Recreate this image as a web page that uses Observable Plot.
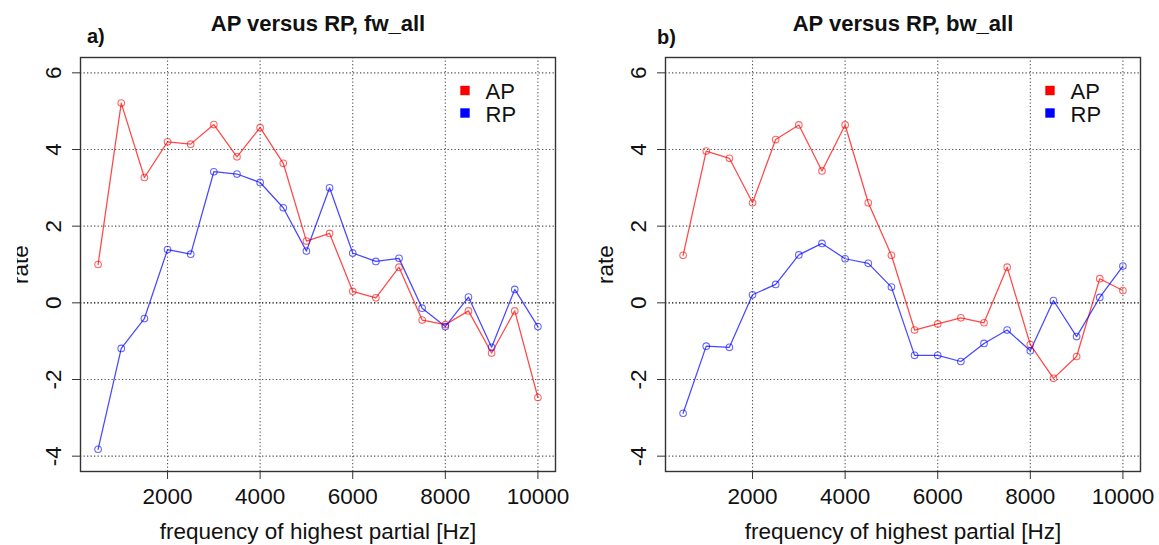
<!DOCTYPE html>
<html><head><meta charset="utf-8">
<script src="https://cdn.jsdelivr.net/npm/d3@7"></script>
<script src="https://cdn.jsdelivr.net/npm/@observablehq/plot@0.6"></script>
<style>
body{margin:0;background:#fff;}
#wrap{position:relative;width:1159px;height:545px;overflow:hidden;background:#fff;}
#pa{position:absolute;left:17px;top:0;}
#pb{position:absolute;left:580px;top:0;}
</style></head><body><div id="wrap"><div id="pa"></div><div id="pb"></div></div>
<script>
const freq = [500,1000,1500,2000,2500,3000,3500,4000,4500,5000,5500,6000,6500,7000,7500,8000,8500,9000,9500,10000];
const fwAP = [1.00,5.21,3.27,4.20,4.14,4.65,3.81,4.57,3.64,1.61,1.81,0.30,0.13,0.93,-0.45,-0.57,-0.21,-1.31,-0.21,-2.47];
const fwRP = [-3.82,-1.19,-0.41,1.39,1.27,3.42,3.36,3.14,2.48,1.35,3.00,1.30,1.08,1.16,-0.14,-0.62,0.15,-1.16,0.35,-0.62];
const bwAP = [1.24,3.96,3.77,2.61,4.26,4.64,3.44,4.64,2.61,1.24,-0.71,-0.55,-0.39,-0.52,0.93,-1.09,-1.97,-1.40,0.63,0.32];
const bwRP = [-2.88,-1.13,-1.16,0.21,0.48,1.25,1.55,1.15,1.03,0.41,-1.37,-1.37,-1.53,-1.06,-0.71,-1.25,0.06,-0.88,0.14,0.96];
const seriesNames = ["AP","RP"];
const seriesColors = ["#ff0000","#0000ff"];
const xTicks = [2000,4000,6000,8000,10000];
const yTicks = [-4,-2,0,2,4,6];
const titles = ["AP versus RP, fw_all","AP versus RP, bw_all"];
const tags = ["a)","b)"];
const xLabel = "frequency of highest partial [Hz]";
const yLabel = "rate";

function rows(ap, rp) {
  const out = [];
  freq.forEach((f, i) => out.push({freq: f, rate: ap[i], series: seriesNames[0]}));
  freq.forEach((f, i) => out.push({freq: f, rate: rp[i], series: seriesNames[1]}));
  return out;
}

function panel({title, tag, tagDx, tagDy, data, width, marginLeft, marginRight}) {
  const FS = 22.5;
  const dotted = {stroke: "#444", strokeOpacity: 0.9, strokeDasharray: "1.3,2.2", strokeWidth: 1.1};
  const legend = [];
  seriesNames.forEach((s, i) => {
    legend.push(Plot.dot([s], {frameAnchor: "top-right", dx: -90.5, dy: 33 + 22.5 * i, symbol: "square", fill: d => d, r: 5.3}));
    legend.push(Plot.text([s], {frameAnchor: "top-right", dx: -70, dy: 41 + 23 * i, textAnchor: "start", lineAnchor: "bottom", fill: "#111", fontSize: 22}));
  });
  return Plot.plot({
    width, height: 545,
    marginLeft, marginRight, marginTop: 57, marginBottom: 74,
    style: {fontFamily: "'Liberation Sans', Arial, sans-serif", fontSize: FS + "px", color: "#111", background: "#fff", overflow: "hidden"},
    x: {domain: [120, 10380]},
    y: {domain: [-4.4, 6.4]},
    color: {domain: seriesNames, range: seriesColors},
    marks: [
      Plot.gridX(xTicks, {...dotted}),
      Plot.gridY(yTicks.filter(v => v !== 0), {...dotted}),
      Plot.ruleY([0], {stroke: "#000", strokeDasharray: "1.3,2.2", strokeWidth: 1.1}),
      Plot.line(data, {x: "freq", y: "rate", stroke: "series", strokeOpacity: 0.72, strokeWidth: 1.25}),
      Plot.dot(data, {x: "freq", y: "rate", stroke: "series", r: 3.3, strokeOpacity: 0.6, strokeWidth: 1.1}),
      Plot.frame({stroke: "#333", strokeWidth: 1.4}),
      Plot.axisX(xTicks, {tickSize: 8, tickPadding: 9, label: null, tickFormat: d => String(d), stroke: "#333", fontSize: FS}),
      Plot.axisY(yTicks, {tickSize: 8, tickPadding: 12, tickRotate: -90, label: null, tickFormat: d => String(d), stroke: "#333", fontSize: FS}),
      Plot.text([title], {frameAnchor: "top", dy: -27, lineAnchor: "bottom", fontWeight: "bold", fill: "#111", fontSize: 22}),
      Plot.text([tag], {frameAnchor: "top-left", dx: tagDx, dy: tagDy, textAnchor: "start", lineAnchor: "bottom", fontWeight: "bold", fontSize: 20, fill: "#111"}),
      Plot.text([xLabel], {frameAnchor: "bottom", dy: 67, lineAnchor: "bottom", fill: "#111", fontSize: FS}),
      Plot.text([yLabel], {frameAnchor: "left", dx: -53, rotate: -90, lineAnchor: "bottom", textAnchor: "middle", fill: "#111", fontSize: FS}),
      ...legend
    ]
  });
}

document.getElementById("pa").appendChild(panel({
  title: titles[0], tag: tags[0], tagDx: 6.5, tagDy: -15, data: rows(fwAP, fwRP),
  width: 563, marginLeft: 63, marginRight: 25
}));
document.getElementById("pb").appendChild(panel({
  title: titles[1], tag: tags[1], tagDx: -8.5, tagDy: -14, data: rows(bwAP, bwRP),
  width: 579, marginLeft: 85, marginRight: 19
}));
</script>
</body></html>
